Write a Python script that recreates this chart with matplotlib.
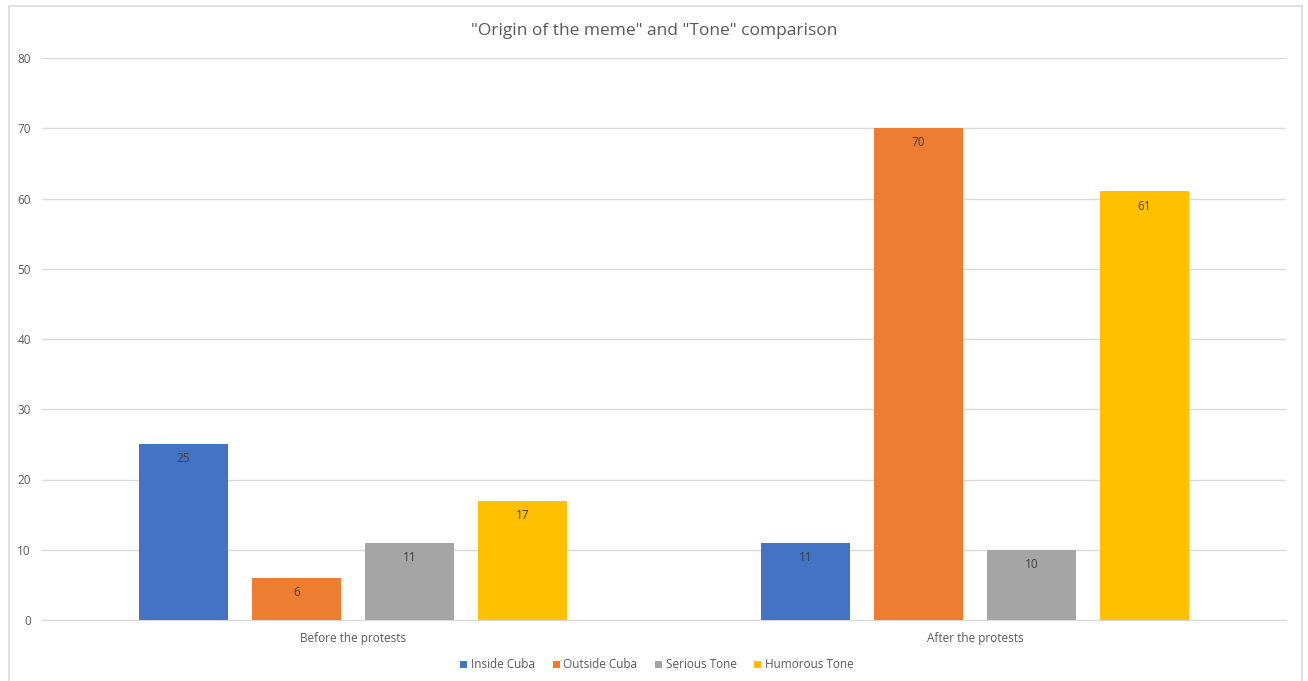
import numpy as np
import matplotlib.pyplot as plt
from matplotlib.patches import Rectangle

plt.rcParams['font.family'] = ['Open Sans', 'DejaVu Sans']

# counts per period
periods = ['Before the protests', 'After the protests']
series_names = ['Inside Cuba', 'Outside Cuba', 'Serious Tone', 'Humorous Tone']
inside_cuba = [25, 11]
outside_cuba = [6, 70]
serious_tone = [11, 10]
humorous_tone = [17, 61]
series_colors = ['#4472C4', '#ED7D31', '#A5A5A5', '#FFC000']

fig = plt.figure(figsize=(13.08, 6.81), dpi=100)
# light chart-area frame
fig.patches.append(Rectangle((9/1308, -0.01), (1302-9)/1308, 1 - 6/681 + 0.01,
                             transform=fig.transFigure, fill=False,
                             edgecolor='#D9D9D9', linewidth=1.2))

ax = fig.add_axes([42/1308, 61/681, 1244/1308, 562/681])

x = np.arange(len(periods))
pitch = 0.1817
width = 0.143
all_series = [inside_cuba, outside_cuba, serious_tone, humorous_tone]
for i, (vals, name, col) in enumerate(zip(all_series, series_names, series_colors)):
    pos = x + (i - 1.5)*pitch
    bars = ax.bar(pos, vals, width, color=col, label=name, zorder=3)
    for b, v in zip(bars, vals):
        ax.annotate(str(v), (b.get_x() + b.get_width()/2, v), xytext=(0, -10.5),
                    textcoords='offset points', ha='center', va='center',
                    fontsize=8.5, color='#404040', zorder=4)

ax.set_xlim(-0.5, 1.5)
ax.set_ylim(0, 80)
ax.set_yticks(np.arange(0, 81, 10))
ax.set_xticks(x)
ax.set_xticklabels(periods)
ax.grid(axis='y', color='#D9D9D9', linewidth=1, zorder=0)
for s in ['top', 'right', 'left']:
    ax.spines[s].set_visible(False)
ax.spines['bottom'].set_color('#D9D9D9')
ax.tick_params(axis='both', length=0, labelsize=8.5, labelcolor='#595959')
ax.tick_params(axis='y', pad=8)
ax.tick_params(axis='x', pad=8.5)

fig.text(654/1308, 1 - 31/681, '"Origin of the meme" and "Tone" comparison',
         ha='center', va='center', fontsize=12.5, color='#595959')

leg = fig.legend(loc='center', bbox_to_anchor=(657/1308, 1 - 665/681), ncol=4,
                 frameon=False, fontsize=8.5, handlelength=0.6, handleheight=0.6,
                 handletextpad=0.3, columnspacing=1.5)
for t in leg.get_texts():
    t.set_color('#595959')

fig.savefig('out.png', dpi=100)
